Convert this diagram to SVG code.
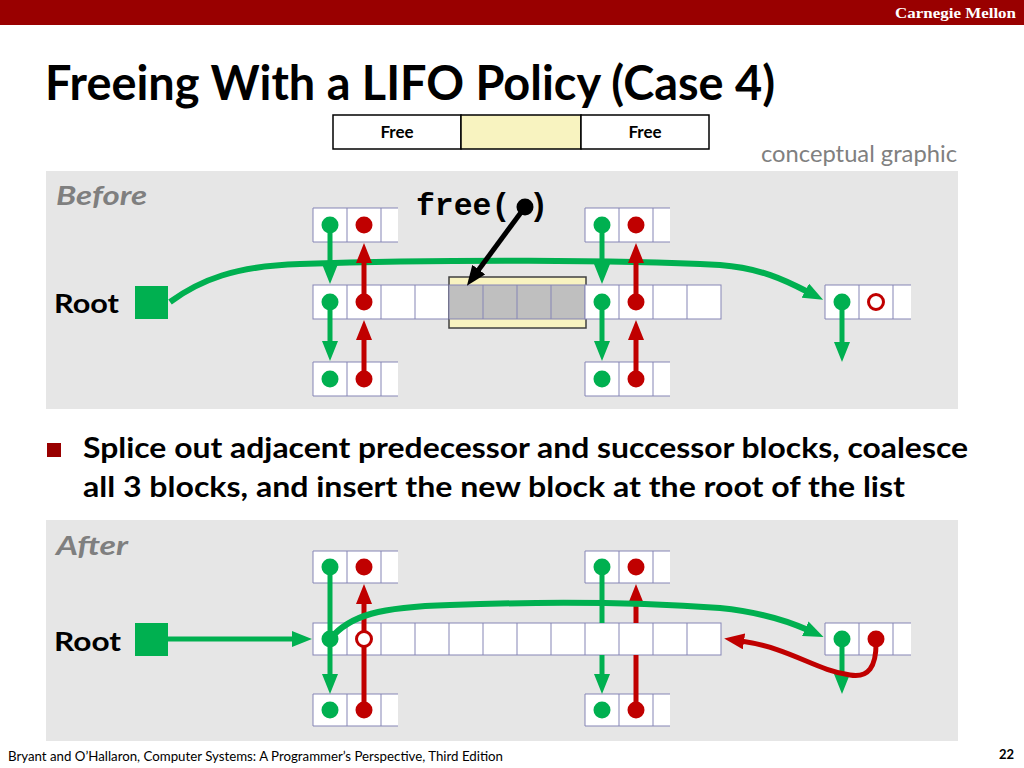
<svg xmlns="http://www.w3.org/2000/svg" width="1024" height="768" viewBox="0 0 1024 768">
<style>
.sans{font-family:Lato,"Open Sans","Liberation Sans",sans-serif;}
.b{font-weight:bold;}
.cell{fill:#fff;stroke:#8585b5;stroke-width:1;}
.edge{fill:none;stroke:#8585b5;stroke-width:1;}
.gray{fill:#bfbfbf;stroke:#8585b5;stroke-width:1;}
.panel{fill:#e6e6e6;}
.g{fill:#00b050;}
.r{fill:#c00000;}
.hol{fill:#fff;stroke:#c00000;stroke-width:3;}
.gl{fill:none;stroke:#00b050;stroke-width:5;}
.gc{fill:none;stroke:#00b050;stroke-width:6;}
.rl{fill:none;stroke:#c00000;stroke-width:5;}
.kl{fill:none;stroke:#000;stroke-width:5;}
</style>
<defs>
<marker id="ag" viewBox="0 0 20 16" refX="3" refY="8" markerWidth="20" markerHeight="16" markerUnits="userSpaceOnUse" orient="auto"><path d="M0,0 L20,8 L0,16 z" fill="#00b050"/></marker>
<marker id="ar" viewBox="0 0 20 16" refX="3" refY="8" markerWidth="20" markerHeight="16" markerUnits="userSpaceOnUse" orient="auto"><path d="M0,0 L20,8 L0,16 z" fill="#c00000"/></marker>
<marker id="ak" viewBox="0 0 20 16" refX="3" refY="8" markerWidth="20" markerHeight="16" markerUnits="userSpaceOnUse" orient="auto"><path d="M0,0 L20,8 L0,16 z" fill="#000"/></marker>
</defs>
<rect width="1024" height="768" fill="#fff"/>
<g id="header">
<rect x="0" y="0" width="1024" height="25" fill="#990000"/>
<text x="1016" y="18" text-anchor="end" font-family="'Liberation Serif',serif" font-weight="bold" font-size="15" fill="#fff" textLength="121" lengthAdjust="spacingAndGlyphs">Carnegie Mellon</text>
</g>
<text class="sans b" x="45" y="100" font-size="47" fill="#000" textLength="730" lengthAdjust="spacingAndGlyphs">Freeing With a LIFO Policy (Case 4)</text>
<g id="legend">
<rect x="333" y="115" width="128" height="34" fill="#fff" stroke="#000" stroke-width="1.5"/>
<rect x="461" y="115" width="120" height="34" fill="#f8f3c0" stroke="#000" stroke-width="1.5"/>
<rect x="581" y="115" width="128" height="34" fill="#fff" stroke="#000" stroke-width="1.5"/>
<text class="sans b" x="397" y="138" font-size="17" text-anchor="middle">Free</text>
<text class="sans b" x="645" y="138" font-size="17" text-anchor="middle">Free</text>
</g>
<text class="sans" x="957" y="162" font-size="24" fill="#808080" text-anchor="end" textLength="196" lengthAdjust="spacingAndGlyphs">conceptual graphic</text>

<!-- Before panel -->
<rect class="panel" x="46" y="171" width="912" height="238"/>
<text class="sans b" x="56" y="205" font-size="27" font-style="italic" fill="#7f7f7f" textLength="91" lengthAdjust="spacingAndGlyphs">Before</text>
<text class="sans b" x="54" y="313" font-size="27" fill="#000" textLength="65" lengthAdjust="spacingAndGlyphs">Root</text>
<g id="b-root"><rect class="g" x="135" y="286" width="33" height="33"/></g>

<g id="b-pred-top"><rect x="313" y="208" width="85" height="34" fill="#fff"/><path class="edge" d="M398,208 H313 V242 H398 M347,208 V242 M381,208 V242"/></g>
<g id="b-pred-bot"><rect x="313" y="362" width="85" height="34" fill="#fff"/><path class="edge" d="M398,362 H313 V396 H398 M347,362 V396 M381,362 V396"/></g>
<g id="b-succ-top"><rect x="585" y="208" width="85" height="34" fill="#fff"/><path class="edge" d="M670,208 H585 V242 H670 M619,208 V242 M653,208 V242"/></g>
<g id="b-succ-bot"><rect x="585" y="362" width="85" height="34" fill="#fff"/><path class="edge" d="M670,362 H585 V396 H670 M619,362 V396 M653,362 V396"/></g>
<g id="b-last"><rect x="825" y="285" width="86" height="34" fill="#fff"/><path class="edge" d="M911,285 H825 V319 H911 M859,285 V319 M893,285 V319"/></g>
<g id="b-heap">
<rect x="313" y="285" width="136" height="34" class="cell"/>
<path class="edge" d="M347,285 V319 M381,285 V319 M415,285 V319"/>
<rect x="449" y="277" width="137" height="51" fill="#f8f3c0" stroke="#404040" stroke-width="1.5"/>
<rect x="449" y="285" width="136" height="34" class="gray"/>
<path class="edge" d="M483,285 V319 M517,285 V319 M551,285 V319"/>
<rect x="585" y="285" width="136" height="34" class="cell"/>
<path class="edge" d="M619,285 V319 M653,285 V319 M687,285 V319"/>
</g>

<!-- After panel -->
<rect class="panel" x="46" y="520" width="912" height="221"/>
<text class="sans b" x="56" y="555" font-size="27" font-style="italic" fill="#7f7f7f" textLength="72" lengthAdjust="spacingAndGlyphs">After</text>
<text class="sans b" x="54" y="651" font-size="27" fill="#000" textLength="67" lengthAdjust="spacingAndGlyphs">Root</text>
<g id="a-root"><rect class="g" x="135" y="623" width="33" height="33"/></g>
<g id="a-pred-top"><rect x="313" y="551" width="85" height="32" fill="#fff"/><path class="edge" d="M398,551 H313 V583 H398 M347,551 V583 M381,551 V583"/></g>
<g id="a-pred-bot"><rect x="313" y="694" width="85" height="32" fill="#fff"/><path class="edge" d="M398,694 H313 V726 H398 M347,694 V726 M381,694 V726"/></g>
<g id="a-succ-top"><rect x="585" y="551" width="85" height="32" fill="#fff"/><path class="edge" d="M670,551 H585 V583 H670 M619,551 V583 M653,551 V583"/></g>
<g id="a-succ-bot"><rect x="585" y="694" width="85" height="32" fill="#fff"/><path class="edge" d="M670,694 H585 V726 H670 M619,694 V726 M653,694 V726"/></g>
<g id="a-last"><rect x="825" y="623" width="86" height="32" fill="#fff"/><path class="edge" d="M911,623 H825 V655 H911 M859,623 V655 M893,623 V655"/></g>
<g id="a-heap">
<rect x="313" y="623" width="408" height="32" class="cell"/>
<path class="edge" d="M347,623 V655 M381,623 V655 M415,623 V655 M449,623 V655 M483,623 V655 M517,623 V655 M551,623 V655 M585,623 V655 M619,623 V655 M653,623 V655 M687,623 V655"/>
</g>

<g id="connectors">
<!-- before -->
<path class="gc" d="M170,302 C200,280 235,266 300,264 C450,259 620,260 720,265 C760,268 785,280 808,292" marker-end="url(#ag)"/>
<path class="gl" d="M330,225 V267" marker-end="url(#ag)"/>
<path class="gl" d="M330,302 V344" marker-end="url(#ag)"/>
<path class="rl" d="M364,302 V260" marker-end="url(#ar)"/>
<path class="rl" d="M364,379 V337" marker-end="url(#ar)"/>
<path class="gl" d="M602,225 V267" marker-end="url(#ag)"/>
<path class="gl" d="M602,302 V344" marker-end="url(#ag)"/>
<path class="rl" d="M636,302 V260" marker-end="url(#ar)"/>
<path class="rl" d="M636,379 V337" marker-end="url(#ar)"/>
<path class="gl" d="M842,302 V345" marker-end="url(#ag)"/>
<path class="kl" d="M525,207 L477,272" marker-end="url(#ak)"/>
<!-- after -->
<path class="gl" d="M168,639 H295" marker-end="url(#ag)"/>
<path class="gl" d="M330,567 V677" marker-end="url(#ag)"/>
<path class="rl" d="M364,710 V601" marker-end="url(#ar)"/>
<path class="gl" d="M602,567 V623 M602,655 V677" marker-end="url(#ag)"/>
<path class="rl" d="M636,710 V655 M636,623 V601" marker-end="url(#ar)"/>
<path class="gl" d="M842,639 V677" marker-end="url(#ag)"/>
<path class="gc" d="M330,639 C350,615 380,607 450,605 C560,601 650,603 720,608 C760,612 790,622 808,630" marker-end="url(#ag)"/>
<path class="rl" d="M876,639 C877,668 868,678 850,675 C815,670 790,648 741,641" marker-end="url(#ar)" stroke-width="6"/>
</g>

<g id="pointers">
<circle class="g" cx="330" cy="225" r="8.5"/><circle class="r" cx="364" cy="225" r="8.5"/>
<circle class="g" cx="330" cy="302" r="8.5"/><circle class="r" cx="364" cy="302" r="8.5"/>
<circle class="g" cx="330" cy="379" r="8.5"/><circle class="r" cx="364" cy="379" r="8.5"/>
<circle class="g" cx="602" cy="225" r="8.5"/><circle class="r" cx="636" cy="225" r="8.5"/>
<circle class="g" cx="602" cy="302" r="8.5"/><circle class="r" cx="636" cy="302" r="8.5"/>
<circle class="g" cx="602" cy="379" r="8.5"/><circle class="r" cx="636" cy="379" r="8.5"/>
<circle class="g" cx="842" cy="302" r="8.5"/><circle class="hol" cx="876" cy="302" r="7.5"/>
<circle class="g" cx="330" cy="567" r="8.5"/><circle class="r" cx="364" cy="567" r="8.5"/>
<circle class="g" cx="330" cy="639" r="8.5"/><circle class="hol" cx="364" cy="639" r="7.5"/>
<circle class="g" cx="330" cy="710" r="8.5"/><circle class="r" cx="364" cy="710" r="8.5"/>
<circle class="g" cx="602" cy="567" r="8.5"/><circle class="r" cx="636" cy="567" r="8.5"/>
<circle class="g" cx="602" cy="710" r="8.5"/><circle class="r" cx="636" cy="710" r="8.5"/>
<circle class="g" cx="842" cy="639" r="8.5"/><circle class="r" cx="876" cy="639" r="8.5"/>
</g>

<g id="free-call">
<text x="416" y="215" font-family="'Liberation Mono',monospace" font-weight="bold" font-size="31" fill="#000" textLength="132" lengthAdjust="spacingAndGlyphs" xml:space="preserve">free( )</text>
<circle cx="525" cy="207" r="8.5" fill="#000"/>
</g>

<g id="bullet">
<rect x="47" y="443" width="14" height="14" fill="#990000"/>
<text class="sans b" x="83" y="458" font-size="29" textLength="885" lengthAdjust="spacingAndGlyphs">Splice out adjacent predecessor and successor blocks, coalesce</text>
<text class="sans b" x="83" y="497" font-size="29" textLength="822" lengthAdjust="spacingAndGlyphs">all 3 blocks, and insert the new block at the root of the list</text>
</g>

<g id="footer">
<text class="sans" x="8" y="761" font-size="13" textLength="495" lengthAdjust="spacingAndGlyphs">Bryant and O’Hallaron, Computer Systems: A Programmer’s Perspective, Third Edition</text>
<text class="sans b" x="1014" y="759" font-size="13" text-anchor="end">22</text>
</g>
</svg>
